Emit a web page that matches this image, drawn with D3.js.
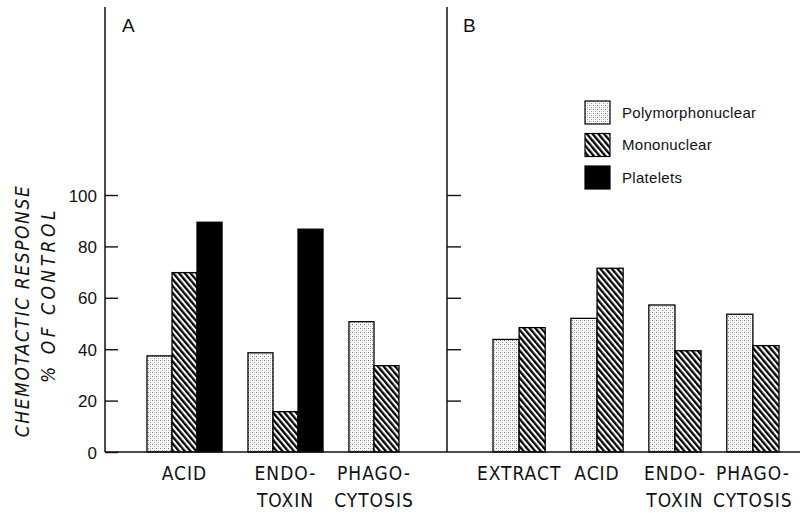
<!DOCTYPE html>
<html>
<head>
<meta charset="utf-8">
<script src="https://cdn.jsdelivr.net/npm/d3@7"></script>
<style>
  body { margin: 0; background: #fff; }
  text { fill: #111; }
  .y-axis text { font-family: "Liberation Sans", Arial, sans-serif; font-size: 17px; }
  .cat { font-family: "Liberation Sans Narrow", "DejaVu Sans Condensed", sans-serif; font-size: 19px; letter-spacing: 1px; }
  .ytitle { font-family: "Liberation Sans Narrow", "DejaVu Sans Condensed", sans-serif; font-size: 19px; font-style: italic; letter-spacing: 1.6px; }
  .legend text { font-family: "Liberation Sans", Arial, sans-serif; font-size: 15px; letter-spacing: 0.3px; }
  .panel { font-family: "Liberation Sans", Arial, sans-serif; font-size: 19px; }
</style>
</head>
<body>
<svg id="chart"></svg>
<script>
// data
let series = ["Polymorphonuclear", "Mononuclear", "Platelets"];

let categoriesA = ["Acid", "Endotoxin", "Phagocytosis"];
let labelsA = [["ACID"], ["ENDO-", "TOXIN"], ["PHAGO-", "CYTOSIS"]];
let polyA = [37.4, 38.6, 50.7];
let monoA = [69.8, 15.7, 33.6];
let plateA = [89.4, 86.7, null];

let categoriesB = ["Extract", "Acid", "Endotoxin", "Phagocytosis"];
let labelsB = [["EXTRACT"], ["ACID"], ["ENDO-", "TOXIN"], ["PHAGO-", "CYTOSIS"]];
let polyB = [43.8, 52.0, 57.2, 53.6];
let monoB = [48.4, 71.5, 39.4, 41.4];

let yTicksA = [0, 20, 40, 60, 80, 100];
let yTicksB = [20, 40, 60, 80, 100];

let width = 807,
  height = 513;

let svg = d3.select("#chart").attr("width", width).attr("height", height);

// patterns
let defs = svg.append("defs");

let dots = defs
  .append("pattern")
  .attr("id", "pat-Polymorphonuclear")
  .attr("patternUnits", "userSpaceOnUse")
  .attr("width", 4)
  .attr("height", 4);
dots.append("rect").attr("width", 4).attr("height", 4).attr("fill", "#fff");
dots.append("rect").attr("x", 0).attr("y", 0).attr("width", 1).attr("height", 1).attr("fill", "#777");
dots.append("rect").attr("x", 2).attr("y", 2).attr("width", 1).attr("height", 1).attr("fill", "#999");
dots.append("rect").attr("x", 2).attr("y", 0).attr("width", 1).attr("height", 1).attr("fill", "#ccc");
dots.append("rect").attr("x", 0).attr("y", 2).attr("width", 1).attr("height", 1).attr("fill", "#ddd");

let hatch = defs
  .append("pattern")
  .attr("id", "pat-Mononuclear")
  .attr("patternUnits", "userSpaceOnUse")
  .attr("width", 4.4)
  .attr("height", 10)
  .attr("patternTransform", "rotate(-40)");
hatch.append("rect").attr("width", 4.4).attr("height", 10).attr("fill", "#fff");
hatch.append("rect").attr("x", 0).attr("width", 2.3).attr("height", 10).attr("fill", "#000");

defs
  .append("pattern")
  .attr("id", "pat-Platelets")
  .attr("patternUnits", "userSpaceOnUse")
  .attr("width", 4)
  .attr("height", 4)
  .append("rect")
  .attr("width", 4)
  .attr("height", 4)
  .attr("fill", "#000");

let fillFor = (s) => "url(#pat-" + s + ")";

let yScale = d3.scaleLinear().domain([0, 100]).range([452, 195]);
let axisTop = 7;

// panel A
let xA = d3.scaleBand().domain(categoriesA).range([147, 424]).paddingInner(0.257);
let subA = d3.scaleBand().domain(series).range([0, xA.bandwidth()]);

// panel B
let xB = d3.scaleBand().domain(categoriesB).range([493, 779]).paddingInner(0.33);
let subB = d3.scaleBand().domain(series.slice(0, 2)).range([0, xB.bandwidth()]);

let dataA = [];
categoriesA.forEach((c, i) => {
  [polyA[i], monoA[i], plateA[i]].forEach((v, j) => {
    if (v != null) dataA.push({ cat: c, s: series[j], v: v });
  });
});
let dataB = [];
categoriesB.forEach((c, i) => {
  [polyB[i], monoB[i]].forEach((v, j) => {
    dataB.push({ cat: c, s: series[j], v: v });
  });
});

function drawBars(data, x, sub) {
  svg
    .append("g")
    .selectAll("rect")
    .data(data)
    .join("rect")
    .attr("x", (d) => x(d.cat) + sub(d.s))
    .attr("y", (d) => yScale(d.v))
    .attr("width", sub.bandwidth())
    .attr("height", (d) => yScale(0) - yScale(d.v))
    .attr("fill", (d) => fillFor(d.s))
    .attr("stroke", "#000")
    .attr("stroke-width", 1.3);
}

drawBars(dataA, xA, subA);
drawBars(dataB, xB, subB);

// axes
let axisXA = xA.range()[0] - 42;
let axisXB = 447;

let yAxisA = d3.axisLeft(yScale).tickValues(yTicksA).tickSize(-13).tickPadding(8);
let yAxisEl = svg
  .append("g")
  .attr("class", "y-axis")
  .attr("transform", "translate(" + axisXA + ",0)")
  .call(yAxisA);
yAxisEl.select(".domain").remove();
yAxisEl.selectAll(".tick line").attr("stroke", "#111").attr("stroke-width", 1.4);
yAxisEl.selectAll(".tick text").attr("dy", "0.36em");

let yAxisB = d3.axisLeft(yScale).tickValues(yTicksB).tickSize(-14).tickFormat("");
let yAxisElB = svg
  .append("g")
  .attr("class", "y-axis")
  .attr("transform", "translate(" + axisXB + ",0)")
  .call(yAxisB);
yAxisElB.select(".domain").remove();
yAxisElB.selectAll(".tick line").attr("stroke", "#111").attr("stroke-width", 1.4);

// frame lines
[axisXA, axisXB].forEach((x) => {
  svg
    .append("line")
    .attr("x1", x)
    .attr("x2", x)
    .attr("y1", axisTop)
    .attr("y2", yScale(0))
    .attr("stroke", "#111")
    .attr("stroke-width", 1.5);
});
svg
  .append("line")
  .attr("x1", axisXA)
  .attr("x2", 800)
  .attr("y1", yScale(0))
  .attr("y2", yScale(0))
  .attr("stroke", "#111")
  .attr("stroke-width", 1.5);

// category labels
function drawLabels(labels, cats, x, sub, n) {
  let g = svg.append("g");
  cats.forEach((c, i) => {
    let cx = x(c) + (sub.step() * n) / 2;
    let t = g
      .append("text")
      .attr("class", "cat")
      .attr("text-anchor", "middle")
      .attr("x", cx)
      .attr("y", 480);
    labels[i].forEach((line, k) => {
      t.append("tspan").attr("x", cx).attr("y", 480 + k * 27).text(line);
    });
  });
}
drawLabels(labelsA, categoriesA, xA, subA, 3);
// PHAGO-CYTOSIS in panel A has only two bars
svg.selectAll(".cat").filter((d, i) => i === 2).each(function () {
  let cx = xA(categoriesA[2]) + subA.step();
  d3.select(this).selectAll("tspan").attr("x", cx);
});
drawLabels(labelsB, categoriesB, xB, subB, 2);

// y title
let yTitle = svg.append("g").attr("class", "ytitle");
yTitle
  .append("text")
  .attr("transform", "translate(29,311) rotate(-90)")
  .attr("text-anchor", "middle")
  .text("CHEMOTACTIC RESPONSE");
yTitle
  .append("text")
  .attr("transform", "translate(55,295) rotate(-90)")
  .attr("text-anchor", "middle")
  .style("letter-spacing", "3.5px")
  .text("% OF CONTROL");

// panel letters
svg.append("text").attr("class", "panel").attr("x", 122).attr("y", 32).text("A");
svg.append("text").attr("class", "panel").attr("x", 463).attr("y", 32).text("B");

// legend
let legend = svg
  .append("g")
  .attr("class", "legend")
  .attr("transform", "translate(585,101)");
let item = legend
  .selectAll("g")
  .data(series)
  .join("g")
  .attr("transform", (d, i) => "translate(0," + i * 32.5 + ")");
item
  .append("rect")
  .attr("width", 25)
  .attr("height", 23)
  .attr("fill", (d) => fillFor(d))
  .attr("stroke", "#000")
  .attr("stroke-width", 1.2);
item
  .append("text")
  .attr("x", 37)
  .attr("y", 16.5)
  .text((d) => d);
</script>
</body>
</html>
